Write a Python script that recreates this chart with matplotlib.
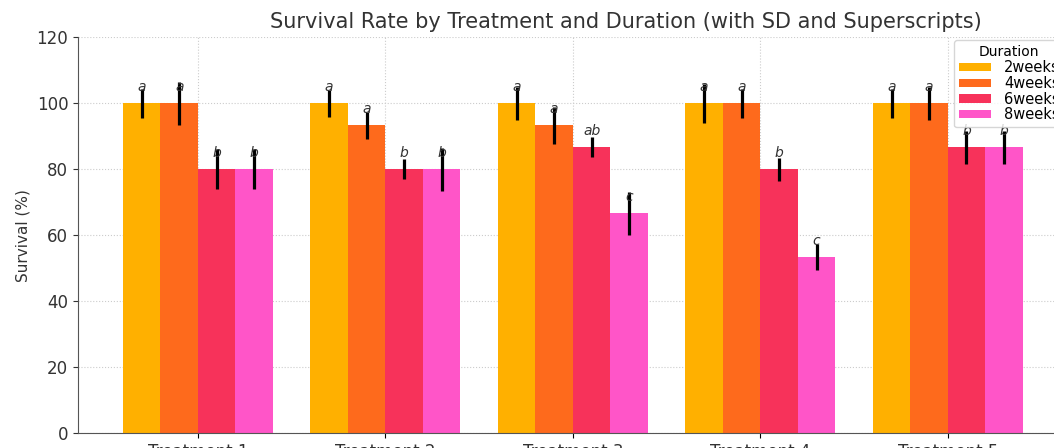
import numpy as np
import matplotlib.pyplot as plt

treatments = ["Treatment 1", "Treatment 2", "Treatment 3", "Treatment 4", "Treatment 5"]
durations = ["2weeks", "4weeks", "6weeks", "8weeks"]

# survival (%) per duration, one value per treatment
survival_2w = [100, 100, 100, 100, 100]
survival_4w = [100, 93.3, 93.3, 100, 100]
survival_6w = [80, 80, 86.7, 80, 86.7]
survival_8w = [80, 80, 66.7, 53.3, 86.7]

sd_2w = [4.5, 4, 5, 6, 4.5]
sd_4w = [6.5, 4, 5.5, 4.5, 5]
sd_6w = [6, 3, 3, 3.5, 5]
sd_8w = [6, 6.5, 6.5, 4, 5]

letters_2w = ["a", "a", "a", "a", "a"]
letters_4w = ["a", "a", "a", "a", "a"]
letters_6w = ["b", "b", "ab", "b", "b"]
letters_8w = ["b", "b", "c", "c", "b"]

colors = ["#FFB000", "#FE6A1C", "#F7325A", "#FF55C8"]

values = [survival_2w, survival_4w, survival_6w, survival_8w]
sds = [sd_2w, sd_4w, sd_6w, sd_8w]
letters = [letters_2w, letters_4w, letters_6w, letters_8w]

fig = plt.figure(figsize=(10.54, 4.48), dpi=100)
ax = fig.add_axes([0.074, 0.0335, 0.939, 0.883])

x = np.arange(len(treatments))
width = 0.2
for i, dur in enumerate(durations):
    pos = x + (i - 1.5) * width
    ax.bar(pos, values[i], width, color=colors[i], label=dur, zorder=2)
    ax.errorbar(pos, values[i], yerr=sds[i], fmt="none", ecolor="black",
                elinewidth=2.3, capsize=0, zorder=3)
    for p, v, t in zip(pos, values[i], letters[i]):
        ax.text(p, v + 5, t, ha="center", va="center", style="italic",
                fontsize=10, color="#333333", zorder=4)

ax.set_ylim(0, 120)
ax.set_xticks(x)
ax.set_xticklabels(treatments, fontsize=12, color="#333333")
ax.tick_params(axis="y", labelsize=12, colors="#333333")
ax.set_ylabel("Survival (%)", fontsize=11, color="#333333")
ax.set_title("Survival Rate by Treatment and Duration (with SD and Superscripts)",
             fontsize=15, color="#333333", pad=7, x=0.5535)
ax.grid(True, linestyle=":", color="#cccccc", linewidth=0.8, zorder=0)
ax.set_axisbelow(True)
ax.spines["top"].set_visible(False)
ax.spines["right"].set_visible(False)
ax.spines["left"].set_color("#555555")
ax.spines["bottom"].set_color("#555555")

ax.legend(title="Duration", loc="upper right", fontsize=10.5, title_fontsize=10,
          labelspacing=0.05, handleheight=0.5, handlelength=2.2,
          handletextpad=0.9, borderpad=0.35,
          borderaxespad=0.2, bbox_to_anchor=(1.0, 1.0))

fig.savefig("out.png", dpi=100)
